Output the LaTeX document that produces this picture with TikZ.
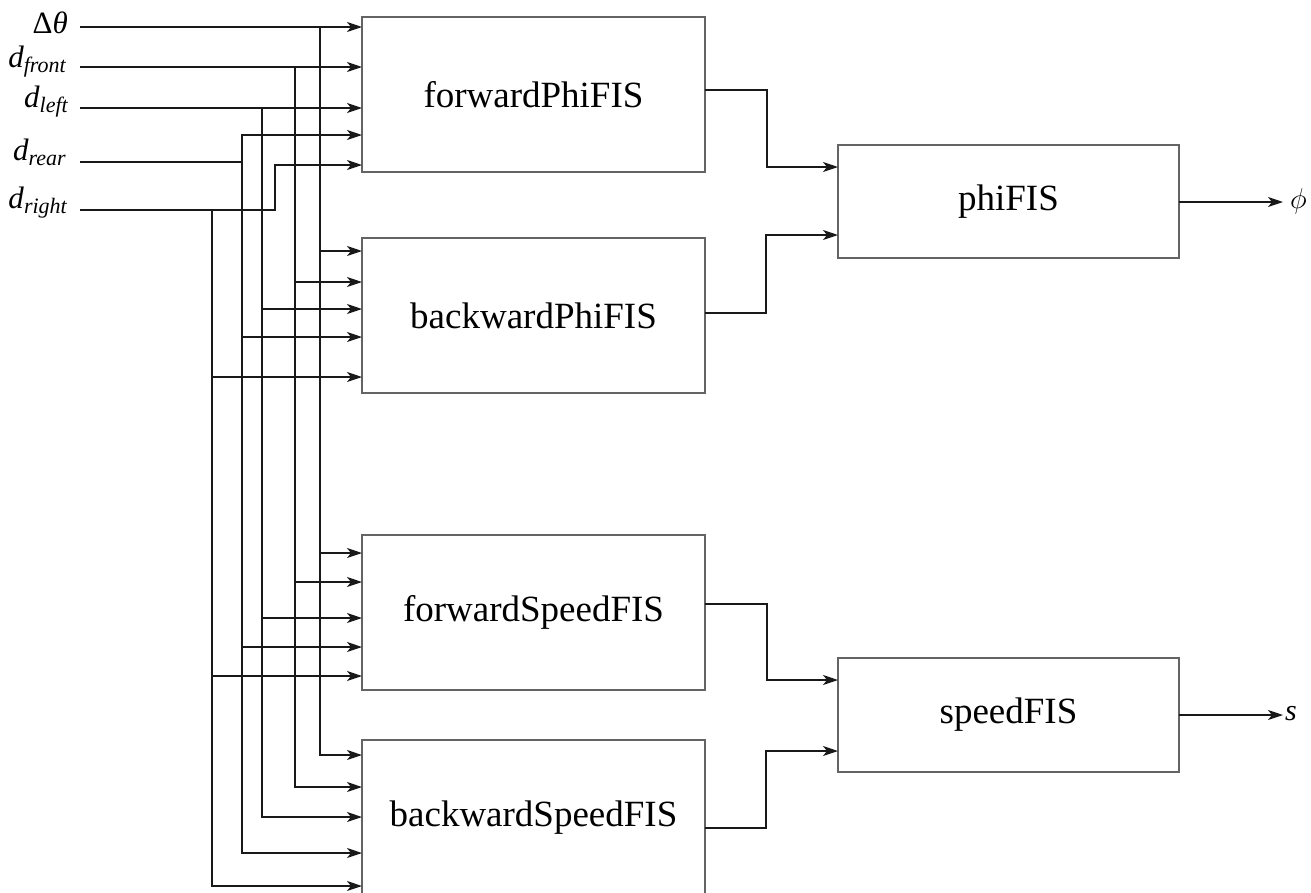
\documentclass[tikz,border=0pt]{standalone}
\usepackage{graphicx}
\usepackage{fontspec}
\setmainfont{Liberation Serif}
\usetikzlibrary{arrows.meta}
\newcommand\subtxt[1]{\raisebox{-5pt}{\fontsize{22}{22}\selectfont\itshape #1}}
\begin{document}
\begin{tikzpicture}[x=1pt,y=-1pt,
  fis/.style={draw={rgb,255:red,100;green,100;blue,100}, line width=1.6pt, inner sep=0pt, outer sep=0pt, font=\fontsize{37}{40}\selectfont},
  wire/.style={line width=1.7pt, draw=black!90},
  arr/.style={wire, -{Stealth[length=15pt,width=10pt,inset=4pt]}},
  lbl/.style={inner sep=0pt, font=\fontsize{31}{34}\selectfont}]
\useasboundingbox (0,0) rectangle (1311,892);
% boxes
\node[fis, minimum width=343pt, minimum height=155pt] (fphi) at (533.5,94.5) {forwardPhiFIS};
\node[fis, minimum width=343pt, minimum height=155pt] (bphi) at (533.5,315.5) {backwardPhiFIS};
\node[fis, minimum width=343pt, minimum height=155pt] (fsp) at (533.5,612.5) {forwardSpeedFIS};
\node[fis, minimum width=343pt, minimum height=155pt] (bsp) at (533.5,817.5) {backwardSpeedFIS};
\node[fis, minimum width=341pt, minimum height=113pt] (phi) at (1008.5,201.5) {phiFIS};
\node[fis, minimum width=341pt, minimum height=114pt] (speed) at (1008.5,715) {speedFIS};
% input labels
\node[lbl, anchor=base east] (lA) at (68,33) {Δ\textit{θ}};
\node[lbl, anchor=base east] (lB) at (66,67) {\textit{d}\subtxt{front}};
\node[lbl, anchor=base east] (lC) at (68,107) {\textit{d}\subtxt{left}};
\node[lbl, anchor=base east] (lD) at (66,160) {\textit{d}\subtxt{rear}};
\node[lbl, anchor=base east] (lE) at (67,208) {\textit{d}\subtxt{right}};
% input start points and bus positions
\coordinate (iA) at (80,27);
\coordinate (iB) at (80,67);
\coordinate (iC) at (80,108);
\coordinate (iD) at (80,162);
\coordinate (iE) at (80,210);
\coordinate (bA) at (320,0);
\coordinate (bB) at (295,0);
\coordinate (bC) at (262,0);
\coordinate (bD) at (242,0);
\coordinate (bE) at (212,0);
\coordinate (bR) at (275,0);
% into forwardPhiFIS
\draw[arr] (iA) -- (iA -| fphi.west);
\draw[arr] (iB) -- (iB -| fphi.west);
\draw[arr] (iC) -- (iC -| fphi.west);
\draw[arr] (iD) -| (bD |- 0,135) -- (fphi.west |- 0,135);
\draw[arr] (iE) -| (bR |- 0,165) -- (fphi.west |- 0,165);
% buses down to backwardSpeedFIS
\draw[arr] (iA -| bA) |- (bsp.west |- 0,755);
\draw[arr] (iB -| bB) |- (bsp.west |- 0,787);
\draw[arr] (iC -| bC) |- (bsp.west |- 0,817);
\draw[arr] (bD |- 0,135) |- (bsp.west |- 0,853);
\draw[arr] (iE -| bE) |- (bsp.west |- 0,886);
% branches
\foreach \b/\y in {bA/251, bB/282, bC/309, bD/337, bE/377}
  \draw[arr] (\b |- 0,\y) -- (bphi.west |- 0,\y);
\foreach \b/\y in {bA/553, bB/582, bC/618, bD/647, bE/676}
  \draw[arr] (\b |- 0,\y) -- (fsp.west |- 0,\y);
% outputs of first stage
\draw[arr] (fphi.east |- 0,90) -| (767,167) -- (phi.west |- 0,167);
\draw[arr] (bphi.east |- 0,313) -| (766,235) -- (phi.west |- 0,235);
\draw[arr] (fsp.east |- 0,604) -| (767,680) -- (speed.west |- 0,680);
\draw[arr] (bsp.east |- 0,828) -| (766,751) -- (speed.west |- 0,751);
% final outputs
\coordinate (oPhi) at (1283,202);
\coordinate (oS) at (1283,715);
\draw[arr] (phi.east |- oPhi) -- (oPhi);
\draw[arr] (speed.east) -- (oS);
\node[lbl, anchor=west, font=\fontsize{24}{28}\selectfont] (lPhi) at (1290,201) {\scalebox{1.15}{$\phi$}};
\node[lbl, anchor=west, font=\fontsize{30}{32}\selectfont] (lS) at (1285,714) {\textit{s}};
\end{tikzpicture}
\end{document}
